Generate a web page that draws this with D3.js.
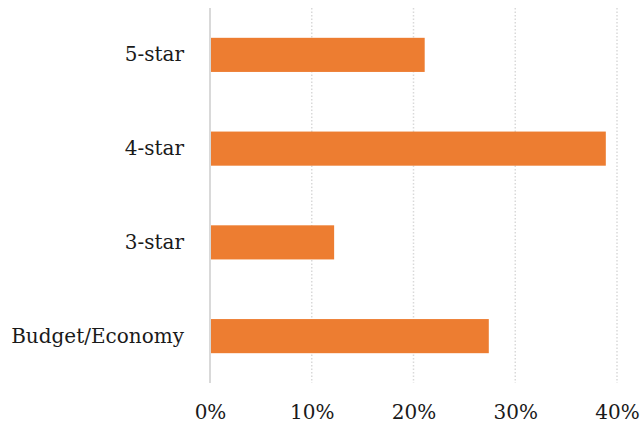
<!DOCTYPE html>
<html>
<head>
<meta charset="utf-8">
<script src="https://cdn.jsdelivr.net/npm/d3@7"></script>
<style>
  body { margin: 0; background: #fff; }
  svg text { font-family: "DejaVu Serif", "Liberation Serif", serif; fill: #1a1a1a; }
</style>
</head>
<body>
<svg width="642" height="431"></svg>
<script>
var categories = ["5-star", "4-star", "3-star", "Budget/Economy"];
var shares = [21.1, 38.9, 12.2, 27.4];
var tickValues = [0, 10, 20, 30, 40];

var margin = { top: 8, right: 25, bottom: 48, left: 210 },
	width = 642 - margin.left - margin.right,
	height = 431 - margin.top - margin.bottom;

var xScale = d3.scaleLinear()
	.domain([0, 40])
	.range([0, width]);

var yScale = d3.scaleBand()
	.domain(categories)
	.range([0, height])
	.paddingInner(0.636)
	.paddingOuter(0.318);

var svg = d3.select("svg")
	.append("g").attr("transform", "translate(" + margin.left + "," + margin.top + ")");

// dotted gridlines
svg.append("g")
	.selectAll("line")
	.data(tickValues.slice(1))
	.enter().append("line")
		.attr("x1", function(d) { return xScale(d); })
		.attr("x2", function(d) { return xScale(d); })
		.attr("y1", 0)
		.attr("y2", height)
		.attr("stroke", "#d9d9d9")
		.attr("stroke-width", 1.5)
		.attr("stroke-dasharray", "1.5,2");

svg.selectAll(".bar")
	.data(shares)
	.enter().append("rect")
		.attr("class", "bar")
		.attr("x", 0)
		.attr("y", function(d, i) { return yScale(categories[i]); })
		.attr("width", function(d) { return xScale(d); })
		.attr("height", yScale.bandwidth())
		.attr("fill", "#ed7d31");

// vertical axis line
svg.append("line")
	.attr("x1", 0).attr("x2", 0)
	.attr("y1", 0).attr("y2", height)
	.attr("stroke", "#d9d9d9")
	.attr("stroke-width", 2);

var xAxis = d3.axisBottom(xScale)
	.tickValues(tickValues)
	.tickSize(0)
	.tickPadding(22)
	.tickFormat(function(d) { return d + "%"; });

svg.append("g")
	.attr("transform", "translate(0," + height + ")")
	.call(xAxis)
	.call(function(g) { g.select(".domain").remove(); })
	.selectAll("text")
		.style("font-size", "20px")
		.attr("fill", "#1a1a1a");

var yAxis = d3.axisLeft(yScale)
	.tickSize(0)
	.tickPadding(26);

svg.append("g")
	.call(yAxis)
	.call(function(g) { g.select(".domain").remove(); })
	.selectAll("text")
		.style("font-size", "20px")
		.attr("fill", "#1a1a1a");
</script>
</body>
</html>
